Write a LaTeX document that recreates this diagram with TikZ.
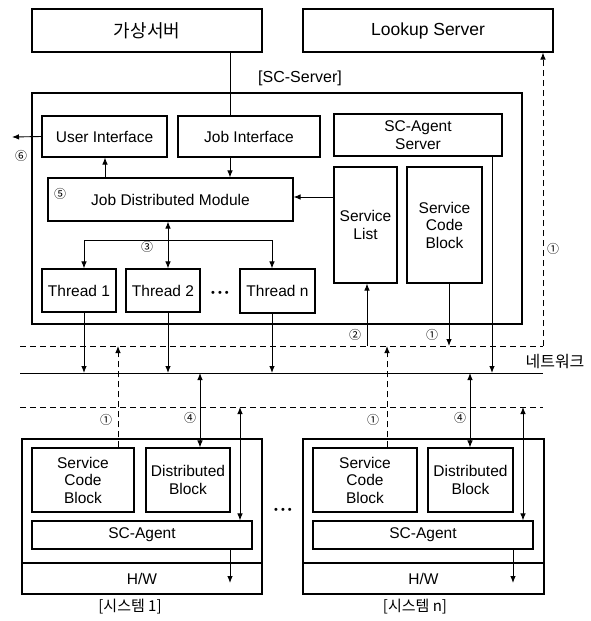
\documentclass[tikz,border=0pt]{standalone}
\usepackage{fontspec}
\setmainfont{Liberation Sans}
\newfontfamily\kr{Noto Sans CJK KR}
\usetikzlibrary{arrows.meta}
\begin{document}
\begin{tikzpicture}[x=1pt,y=-1pt,
  box/.style={draw, line width=1.1pt, inner sep=1pt, align=center, font=\fontsize{15.5}{17.5}\selectfont},
  arr/.style={line width=0.9pt, -{Latex[length=7pt,width=5.5pt]}},
  darr/.style={line width=0.9pt, {Latex[length=7pt,width=5.5pt]}-{Latex[length=7pt,width=5.5pt]}},
  ln/.style={line width=0.9pt},
  dsh/.style={line width=0.9pt, dash pattern=on 6pt off 4pt},
  num/.style={font=\kr\fontsize{12}{12}\selectfont, inner sep=0pt},
  lbl/.style={font=\fontsize{16}{18}\selectfont, inner sep=0pt},
  dots/.style={font=\fontsize{11}{11}\selectfont, inner sep=0pt},
]
\useasboundingbox (0,0) rectangle (591,621);
% lanes
\coordinate (x84) at (84,0);
\coordinate (x105) at (105,0);
\coordinate (x118) at (118,0);
\coordinate (x168) at (168,0);
\coordinate (x200) at (200,0);
\coordinate (x230) at (230,0);
\coordinate (x240) at (240,0);
\coordinate (x272) at (272,0);
\coordinate (x367) at (367,0);
\coordinate (x387) at (387,0);
\coordinate (x449) at (449,0);
\coordinate (x470) at (470,0);
\coordinate (x492) at (492,0);
\coordinate (x513) at (513,0);
\coordinate (x523) at (523,0);
\coordinate (r197) at (0,197);
\coordinate (bar) at (0,240);
\coordinate (hwend) at (0,583);
\coordinate (dL) at (20,346);
\coordinate (dR) at (543,346);
\coordinate (netL) at (20,373);
\coordinate (netR) at (543,373);
\coordinate (dL2) at (20,407);
\coordinate (dR2) at (543,407);
\coordinate (uiout) at (12,137);

% top
\node[box, minimum width=230, minimum height=43, font=\kr\fontsize{18}{20}\selectfont] (vs) at (147,30.5) {가상서버};
\node[box, minimum width=250, minimum height=43, font=\fontsize{17.5}{20}\selectfont] (ls) at (428,30.5) {Lookup Server};
\node[lbl] (scsl) at (300,78) {[SC-Server]};

% SC-Server
\node[box, minimum width=490, minimum height=231] (scs) at (277,208.5) {};
\node[box, minimum width=125, minimum height=41] (ui) at (104.5,136.5) {User Interface};
\node[box, minimum width=142, minimum height=41] (ji) at (249,136.5) {Job Interface};
\node[box, minimum width=168, minimum height=42] (sas) at (418,135) {SC-Agent\\Server};
\node[box, minimum width=245, minimum height=43] (jdm) at (170.5,199.5) {Job Distributed Module};
\node[box, minimum width=63, minimum height=116] (sl) at (365.5,225) {Service\\List};
\node[box, minimum width=75, minimum height=116] (scb0) at (444.5,225) {Service\\Code\\Block};
\node[box, minimum width=74, minimum height=43] (t1) at (79,290.5) {Thread 1};
\node[box, minimum width=74, minimum height=43] (t2) at (163,290.5) {Thread 2};
\node[box, minimum width=75, minimum height=44] (tn) at (277.5,291) {Thread n};
\node[dots] (dots1) at (220,294) {•\hspace{3pt}•\hspace{3pt}•};

% systems
\node[box, minimum width=240, minimum height=124] (s1) at (142,501) {};
\node[box, minimum width=240, minimum height=31] (s1hw) at (142,578.5) {H/W};
\node[box, minimum width=102, minimum height=64] (s1scb) at (83,480) {Service\\Code\\Block};
\node[box, minimum width=84, minimum height=64] (s1db) at (188,480) {Distributed\\Block};
\node[box, minimum width=220, minimum height=28] (s1ag) at (142,535) {SC-Agent};
\node[lbl, font=\kr\fontsize{15}{17}\selectfont] (s1l) at (130,607) {[시스템 1]};

\node[box, minimum width=241, minimum height=124] (sn) at (423.5,501) {};
\node[box, minimum width=241, minimum height=31] (snhw) at (423.5,578.5) {H/W};
\node[box, minimum width=104, minimum height=64] (snscb) at (365,480) {Service\\Code\\Block};
\node[box, minimum width=85, minimum height=64] (sndb) at (470.5,480) {Distributed\\Block};
\node[box, minimum width=220, minimum height=28] (snag) at (423,535) {SC-Agent};
\node[lbl, font=\kr\fontsize{15}{17}\selectfont] (snl) at (415,607) {[시스템 n]};
\node[dots] (dots2) at (283,511) {•\hspace{3pt}•\hspace{3pt}•};

\node[lbl, font=\kr\fontsize{16}{18}\selectfont] (net) at (555,362) {네트워크};

% numbers
\node[num] (n6) at (21,156) {⑥};
\node[num] (n5) at (60,194) {⑤};
\node[num] (n3) at (147,247) {③};
\node[num] (n1a) at (553,249) {①};
\node[num] (n2) at (355,335) {②};
\node[num] (n1b) at (432,335) {①};
\node[num] (n1c) at (106,420) {①};
\node[num] (n4a) at (190,418) {④};
\node[num] (n1d) at (373,420) {①};
\node[num] (n4b) at (460,418) {④};

% connectors in server
\draw[ln] (x230 |- vs.south) -- (x230 |- ji.north);
\draw[arr] (x230 |- ji.south) -- (x230 |- jdm.north);
\draw[arr] (x105 |- jdm.north) -- (x105 |- ui.south);
\draw[arr] (ui.west) -- (uiout);
\draw[arr] (sl.west |- r197) -- (jdm.east |- r197);
\draw[darr] (x168 |- jdm.south) -- (x168 |- t2.north);
\draw[ln] (x84 |- bar) -- (x272 |- bar);
\draw[arr] (x84 |- bar) -- (x84 |- t1.north);
\draw[arr] (x272 |- bar) -- (x272 |- tn.north);
\draw[arr] (x84 |- t1.south) -- (x84 |- netL);
\draw[arr] (x168 |- t2.south) -- (x168 |- netL);
\draw[arr] (x272 |- tn.south) -- (x272 |- netL);
\draw[arr] (x492 |- sas.south) -- (x492 |- netL);

% network lines
\draw[dsh] (dL) -- (dR);
\draw[dsh, -{Latex[length=7pt,width=5.5pt]}] (dR) -- (dR |- ls.south);
\draw[ln] (netL) -- (netR);
\draw[dsh] (dL2) -- (dR2);

\draw[arr] (x367 |- dL) -- (x367 |- sl.south);
\draw[arr] (x449 |- scb0.south) -- (x449 |- dL);
\draw[dsh, -{Latex[length=7pt,width=5.5pt]}] (x118 |- s1scb.north) -- (x118 |- dL);
\draw[dsh, -{Latex[length=7pt,width=5.5pt]}] (x387 |- snscb.north) -- (x387 |- dL);
\draw[darr] (x200 |- netL) -- (x200 |- s1db.north);
\draw[darr] (x470 |- netL) -- (x470 |- sndb.north);
\draw[darr] (x240 |- dL2) -- (x240 |- s1ag.north);
\draw[darr] (x523 |- dL2) -- (x523 |- snag.north);
\draw[arr] (x230 |- s1ag.south) -- (x230 |- hwend);
\draw[arr] (x513 |- snag.south) -- (x513 |- hwend);
\end{tikzpicture}
\end{document}
